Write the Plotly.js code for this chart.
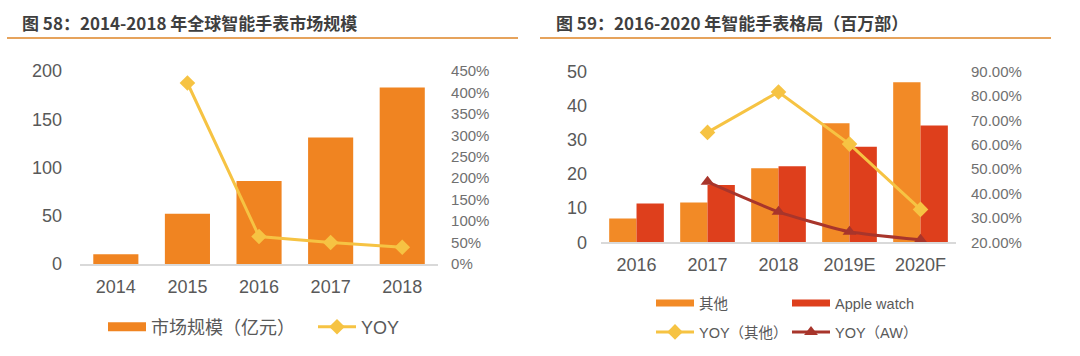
<!DOCTYPE html>
<html>
<head>
<meta charset="utf-8">
<script src="https://cdn.plot.ly/plotly-3.0.1.min.js"></script>
<style>html,body{margin:0;padding:0;background:#fff;}#chart{width:1080px;height:356px;}</style>
</head>
<body>
<div id="chart"></div>
<script>
// ---- Data: Figure 58 ----
const years58 = ['2014', '2015', '2016', '2017', '2018'];
const marketSize = [10, 52, 86, 131, 183];          // 亿元
const marketYoy = [null, 4.22, 0.64, 0.50, 0.39];   // ratio

// ---- Data: Figure 59 ----
const years59 = ['2016', '2017', '2018', '2019E', '2020F'];
const othersUnits = [7.0, 11.7, 21.7, 34.9, 46.9];  // 百万部
const appleUnits = [11.4, 16.8, 22.3, 28.0, 34.2];
const othersYoy = [null, 0.651, 0.817, 0.603, 0.335];
const appleYoy = [null, 0.448, 0.325, 0.243, 0.21];

const titles = ['图 58：2014-2018 年全球智能手表市场规模', '图 59：2016-2020 年智能手表格局（百万部）'];
const legendNames = ['市场规模（亿元）', 'YOY', '其他', 'Apple watch', 'YOY（其他）', 'YOY（AW）'];

const C_BAR1 = '#F08421';
const C_OTH = '#F28A26';
const C_AW = '#DE3F1C';
const C_YEL = '#F6C343';
const C_DRED = '#A8352B';
const LATIN = 'Liberation Sans, Arial, Noto Sans CJK SC, sans-serif';
const CJK = 'Noto Sans CJK SC, Liberation Sans, sans-serif';

const traces = [
  // Figure 58
  { type: 'bar', x: years58, y: marketSize, xaxis: 'x', yaxis: 'y', marker: { color: C_BAR1 },
    width: 0.63, showlegend: false, hoverinfo: 'x+y' },
  { type: 'scatter', mode: 'lines', x: [null], y: [null], xaxis: 'x', yaxis: 'y', name: legendNames[0],
    line: { color: C_BAR1, width: 9 }, legend: 'legend', showlegend: true },
  { type: 'scatter', mode: 'lines+markers', x: years58, y: marketYoy, xaxis: 'x', yaxis: 'y2', name: legendNames[1],
    line: { color: C_YEL, width: 3 }, marker: { symbol: 'diamond', size: 12, color: C_YEL },
    legend: 'legend', cliponaxis: false },
  // Figure 59
  { type: 'bar', x: years59, y: othersUnits, xaxis: 'x2', yaxis: 'y3', marker: { color: C_OTH },
    width: 0.385, offset: -0.385, showlegend: false },
  { type: 'bar', x: years59, y: appleUnits, xaxis: 'x2', yaxis: 'y3', marker: { color: C_AW },
    width: 0.385, offset: 0, showlegend: false },
  { type: 'scatter', mode: 'lines', x: [null], y: [null], xaxis: 'x2', yaxis: 'y3', name: legendNames[2],
    line: { color: C_OTH, width: 7 }, legend: 'legend2' },
  { type: 'scatter', mode: 'lines', x: [null], y: [null], xaxis: 'x2', yaxis: 'y3', name: legendNames[3],
    line: { color: C_AW, width: 7 }, legend: 'legend2' },
  { type: 'scatter', mode: 'lines+markers', x: years59, y: othersYoy, xaxis: 'x2', yaxis: 'y4', name: legendNames[4],
    line: { color: C_YEL, width: 3 }, marker: { symbol: 'diamond', size: 12, color: C_YEL },
    legend: 'legend3', cliponaxis: false },
  { type: 'scatter', mode: 'lines+markers', x: years59, y: appleYoy, xaxis: 'x2', yaxis: 'y4', name: legendNames[5],
    line: { color: C_DRED, width: 3, shape: 'spline', smoothing: 0.5 },
    marker: { symbol: 'triangle-up', size: 12, color: C_DRED },
    legend: 'legend3', cliponaxis: false }
];

const tickBase = { color: '#595959', family: LATIN, size: 18 };
const tickRight = { color: '#707070', family: LATIN, size: 15 };

const layout = {
  width: 1080, height: 356,
  margin: { l: 0, r: 0, t: 0, b: 0 },
  paper_bgcolor: '#ffffff', plot_bgcolor: '#ffffff',
  font: { family: LATIN, color: '#595959' },
  barmode: 'group',
  xaxis: { domain: [0.0741, 0.4056], anchor: 'y', type: 'category', range: [-0.5, 4.5],
    showline: true, linecolor: '#D9D9D9', linewidth: 1.5, ticks: '', showgrid: false, zeroline: false,
    tickfont: tickBase, ticklabelstandoff: 6, fixedrange: true },
  yaxis: { domain: [0.2584, 0.8006], anchor: 'x', range: [0, 200], dtick: 50, showgrid: false,
    zeroline: false, showline: false, ticks: '', tickfont: tickBase, ticklabelstandoff: 17 },
  yaxis2: { overlaying: 'y', side: 'right', anchor: 'x', range: [0, 4.5], dtick: 0.5, tickformat: '.0%',
    showgrid: false, zeroline: false, showline: false, ticks: '', tickfont: tickRight, ticklabelstandoff: 12 },
  xaxis2: { domain: [0.5565, 0.8852], anchor: 'y3', type: 'category', range: [-0.5, 4.5],
    showline: true, linecolor: '#D9D9D9', linewidth: 1.5, ticks: '', showgrid: false, zeroline: false,
    tickfont: tickBase, ticklabelstandoff: 6 },
  yaxis3: { domain: [0.3194, 0.7986], anchor: 'x2', range: [0, 50], dtick: 10, showgrid: false,
    zeroline: false, showline: false, ticks: '', tickfont: tickBase, ticklabelstandoff: 13 },
  yaxis4: { overlaying: 'y3', side: 'right', anchor: 'x2', range: [0.2, 0.9], dtick: 0.1, tickformat: '.2%',
    showgrid: false, zeroline: false, showline: false, ticks: '', tickfont: tickRight, ticklabelstandoff: 14 },
  legend: { orientation: 'h', x: 103 / 1080, xanchor: 'left', y: 1 - 327 / 356, yanchor: 'middle',
    font: { family: LATIN, size: 18, color: '#595959' }, itemwidth: 38, entrywidth: 157, bgcolor: 'rgba(0,0,0,0)',
    traceorder: 'normal' },
  legend2: { orientation: 'h', x: 651 / 1080, xanchor: 'left', y: 1 - 303 / 356, yanchor: 'middle',
    font: { family: LATIN, size: 14.5, color: '#595959' }, itemwidth: 38, entrywidth: 83, bgcolor: 'rgba(0,0,0,0)',
    traceorder: 'normal' },
  legend3: { orientation: 'h', x: 651 / 1080, xanchor: 'left', y: 1 - 332 / 356, yanchor: 'middle',
    font: { family: LATIN, size: 14.5, color: '#595959' }, itemwidth: 38, entrywidth: 83, bgcolor: 'rgba(0,0,0,0)',
    traceorder: 'normal' },
  annotations: [
    { text: '<b>' + titles[0] + '</b>', xref: 'paper', yref: 'paper', x: 20 / 1080, y: 1 - 22 / 356,
      xanchor: 'left', yanchor: 'middle', showarrow: false, font: { family: CJK, size: 17, color: '#3F3F3F' } },
    { text: '<b>' + titles[1] + '</b>', xref: 'paper', yref: 'paper', x: 554 / 1080, y: 1 - 22 / 356,
      xanchor: 'left', yanchor: 'middle', showarrow: false, font: { family: CJK, size: 17, color: '#3F3F3F' } }
  ],
  shapes: [
    { type: 'line', xref: 'paper', yref: 'paper', x0: 7 / 1080, x1: 518 / 1080, y0: 1 - 38 / 356, y1: 1 - 38 / 356,
      line: { color: '#E6A35C', width: 2 } },
    { type: 'line', xref: 'paper', yref: 'paper', x0: 540 / 1080, x1: 1051 / 1080, y0: 1 - 38 / 356, y1: 1 - 38 / 356,
      line: { color: '#E6A35C', width: 2 } }
  ]
};

Plotly.newPlot('chart', traces, layout, { displayModeBar: false, staticPlot: true });
</script>
</body>
</html>
